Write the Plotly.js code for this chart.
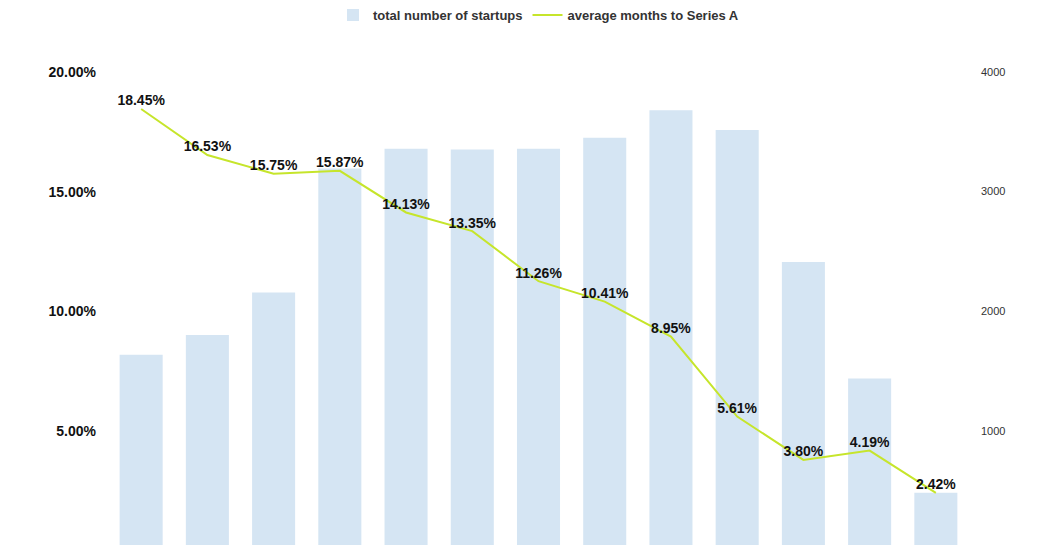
<!DOCTYPE html>
<html>
<head>
<meta charset="utf-8">
<script src="https://cdn.plot.ly/plotly-3.0.1.min.js"></script>
<style>body{margin:0;background:#fff}</style>
</head>
<body>
<div id="chart" style="width:1040px;height:545px"></div>
<script>
const cohorts = ['1','2','3','4','5','6','7','8','9','10','11','12','13'];
const startups = [1638, 1802, 2156, 3193, 3358, 3350, 3358, 3449, 3679, 3514, 2412, 1440, 486];
const monthsPct = [18.45, 16.53, 15.75, 15.87, 14.13, 13.35, 11.26, 10.41, 8.95, 5.61, 3.80, 4.19, 2.42];
const pctTicks = [5, 10, 15, 20];

const bars = {
  type: 'bar', name: 'total number of startups',
  x: cohorts, y: startups, yaxis: 'y',
  marker: {color: '#d5e5f3'}
};
const line = {
  type: 'scatter', mode: 'lines+text', name: 'average months to Series A',
  x: cohorts, y: monthsPct, yaxis: 'y2',
  text: monthsPct.map(v => v.toFixed(2) + '%'),
  textposition: 'top center',
  textfont: {family: 'Liberation Sans, Arial', size: 14, color: '#111', weight: 'bold'},
  line: {color: '#c6e52b', width: 2},
  cliponaxis: false
};

Plotly.newPlot('chart', [bars, line], {
  width: 1040, height: 545,
  margin: {l: 97, r: 60, t: 50, b: 0},
  paper_bgcolor: '#fff', plot_bgcolor: '#fff',
  font: {family: 'Liberation Sans, Arial'},
  bargap: 0.35,
  showlegend: true,
  legend: {orientation: 'h', x: 0.5, xanchor: 'center', y: 1.055, yanchor: 'bottom',
           font: {size: 13, color: '#333', weight: 'bold'}, traceorder: 'normal'},
  xaxis: {showticklabels: false, showgrid: false, zeroline: false, showline: false, automargin: false},
  yaxis: {side: 'right', range: [49, 4123], tickvals: [1000, 2000, 3000, 4000],
          showgrid: false, zeroline: false, automargin: false, tickfont: {size: 11, color: '#333'}},
  yaxis2: {overlaying: 'y', side: 'left', range: [0.247, 20.62],
           tickvals: pctTicks, ticktext: pctTicks.map(v => v.toFixed(2) + '%'),
           showgrid: false, zeroline: false, automargin: false,
           tickfont: {size: 14, color: '#111', weight: 'bold'}}
}, {displayModeBar: false});
</script>
</body>
</html>
